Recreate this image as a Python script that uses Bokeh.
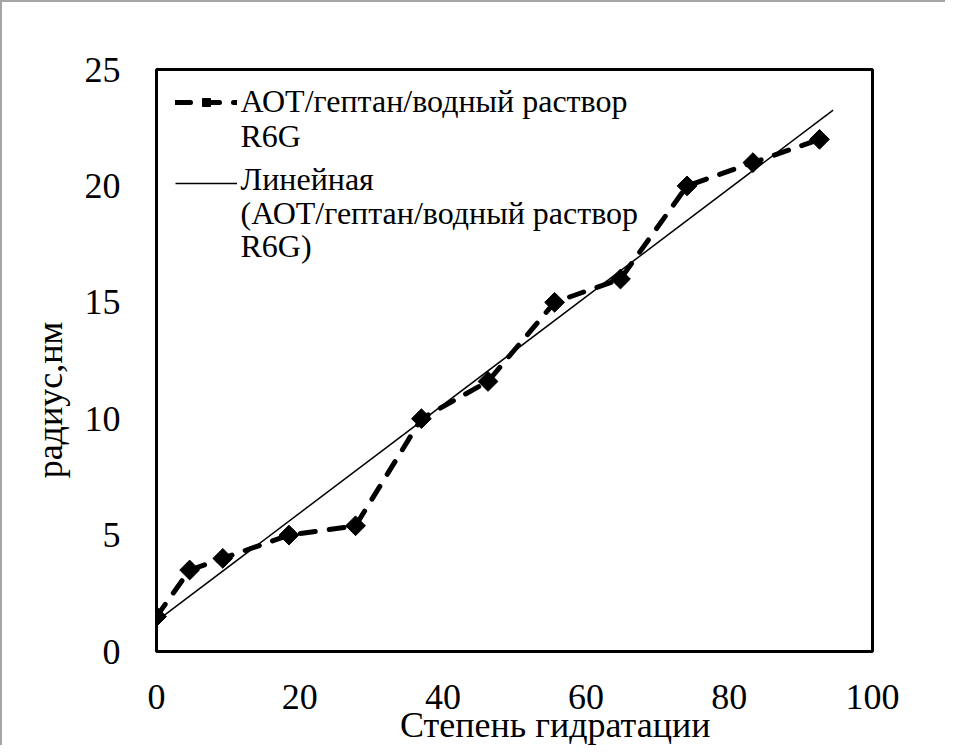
import numpy as np
from bokeh.plotting import figure
from bokeh.models import (Range1d, Legend, LegendItem, LinearAxis, FixedTicker,
                          InlineStyleSheet)
from bokeh.core.properties import value
from bokeh.embed import file_html
from bokeh.resources import INLINE

# ---- data ----
hydration = [0, 4.63, 9.26, 18.5, 27.8, 37.0, 46.3, 55.6, 64.8, 74.1, 83.3, 92.6]
radius = [1.5, 3.5, 4.0, 5.0, 5.4, 10.0, 11.6, 15.0, 16.0, 20.0, 21.0, 22.0]
x_ticks = [0, 20, 40, 60, 80, 100]
y_ticks = [0, 5, 10, 15, 20, 25]
series_label_lines = ["АОТ/гептан/водный раствор", "R6G"]
trend_label_lines = ["Линейная", "(АОТ/гептан/водный раствор", "R6G)"]
x_title = "Степень гидратации"
y_title = "радиус,нм"
trend_forecast = 1.9  # trendline forward extension (x units)

FONT = "'Liberation Serif', 'DejaVu Serif', 'Times New Roman', serif"

# title anchor positions (axis units) and legend text layout
x_title_at = 55.7
y_title_at = 10.8
legend_text_x = 11.73
legend_text_baselines = [23.63, 22.13, 20.28, 18.83, 17.41]

p = figure(width=945, height=745, output_backend="svg", toolbar_location=None,
           x_range=Range1d(0, 100), y_range=Range1d(0, 25),
           min_border_left=154, min_border_right=75,
           min_border_top=67, min_border_bottom=95)
p.styles = {"border-left": "2px solid #a6a6a6", "border-top": "2px solid #a6a6a6"}
p.stylesheets = [InlineStyleSheet(
    css="text { font-family: 'Liberation Serif', 'Times New Roman', serif !important; }")]

p.outline_line_color = "black"
p.outline_line_width = 3
p.grid.grid_line_color = None
p.background_fill_color = "white"
p.border_fill_color = "white"


def style_axis(ax):
    ax.axis_line_color = None
    ax.major_tick_line_color = None
    ax.minor_tick_line_color = None
    ax.major_label_text_font = FONT
    ax.major_label_text_font_size = "36px"
    ax.major_label_text_color = "black"


style_axis(p.xaxis[0])
style_axis(p.yaxis[0])
p.xaxis.ticker = x_ticks
p.yaxis.ticker = y_ticks
p.xaxis.major_label_standoff = 27
p.yaxis.major_label_standoff = 30

# axis titles drawn through the axis text path (positioned like the original)
xt_axis = LinearAxis(ticker=FixedTicker(ticks=[x_title_at]),
                     major_label_overrides={x_title_at: x_title},
                     major_label_standoff=-13)
style_axis(xt_axis)
p.add_layout(xt_axis, "below")

yt_axis = LinearAxis(ticker=FixedTicker(ticks=[y_title_at]),
                     major_label_overrides={y_title_at: y_title},
                     major_label_orientation="vertical",
                     major_label_standoff=5)
style_axis(yt_axis)
p.add_layout(yt_axis, "left")

# trendline (least squares, as the spreadsheet computes it)
slope, intercept = np.polyfit(hydration, radius, 1)
tx = np.array([0.0, max(hydration) + trend_forecast])
ty = slope * tx + intercept
trend_r = p.line(tx, ty, line_color="black", line_width=1.5)

series_line = p.line(hydration, radius, line_color="black", line_width=5,
                     line_dash="15 14", line_cap="round")
series_pts = p.scatter(hydration, radius, marker="square", size=14,
                       angle=np.pi / 4, fill_color="black", line_color="black")

blank = p.line([], [], line_alpha=0)

# legend samples (glyphs); the multi-line legend text is drawn as text below
items = [
    LegendItem(label=" ", renderers=[series_line, series_pts]),
    LegendItem(label=" ", renderers=[blank]),
    LegendItem(label=" ", renderers=[blank]),
    LegendItem(label=" ", renderers=[trend_r]),
]
legend = Legend(items=items, location=(19, 455), border_line_color=None,
                background_fill_alpha=0, label_text_font_size="8px",
                glyph_width=62, glyph_height=20, label_standoff=0,
                label_width=10, label_height=27, spacing=0, padding=0, margin=0)
p.add_layout(legend)

legend_lines = series_label_lines + trend_label_lines
p.text(x=[legend_text_x] * len(legend_lines), y=legend_text_baselines,
       text=legend_lines, text_font=value(FONT), text_font_size=value("32px"),
       text_align="left", text_baseline="alphabetic", text_color="black")

open("out.html", "w").write(file_html(p, INLINE))
